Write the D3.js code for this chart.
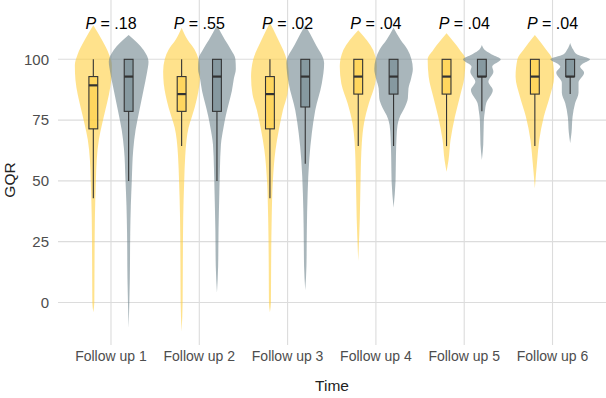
<!DOCTYPE html>
<html>
<head>
<meta charset="utf-8">
<script src="https://cdn.jsdelivr.net/npm/d3@7"></script>
<style>
  body { margin: 0; background: #fff; }
  text { font-family: "Liberation Sans", Arial, sans-serif; }
</style>
</head>
<body>
<script>
// categories
const times = ["Follow up 1", "Follow up 2", "Follow up 3", "Follow up 4", "Follow up 5", "Follow up 6"];
const groups = ["Group 1", "Group 2"];
const pValues = [".18", ".55", ".02", ".04", ".04", ".04"];
const yTicks = [0, 25, 50, 75, 100];

// box stats per time: [lower whisker, q1, median, q3, upper whisker]
const boxGroup1 = [
  [42.9, 71.4, 89.3, 92.9, 100],
  [64.3, 78.6, 85.7, 92.9, 100],
  [42.9, 71.4, 85.7, 92.9, 100],
  [64.3, 85.7, 92.9, 100, 100],
  [64.3, 85.7, 92.9, 100, 100],
  [64.3, 85.7, 92.9, 100, 100]
];
const boxGroup2 = [
  [50, 78.6, 92.9, 100, 100],
  [50, 78.6, 92.9, 100, 100],
  [57.1, 80.4, 92.9, 100, 100],
  [64.3, 85.7, 92.9, 100, 100],
  [78.6, 92.9, 92.9, 100, 100],
  [85.7, 92.9, 92.9, 100, 100]
];

// violin outlines per time: [GQR value, relative density width]
const violinGroup1 = [
  [[114,0],[108,0.43],[101.8,0.8],[97.6,0.93],[91.5,0.9],[85.3,0.78],[79,0.6],[73,0.43],[67,0.28],[58.5,0.17],[50.3,0.13],[35,0.08],[15,0.06],[0,0.05],[-4,0]],
  [[113,0],[108,0.3],[104,0.65],[100,0.85],[95,0.93],[90,0.9],[85,0.8],[80,0.65],[76,0.5],[72,0.35],[67,0.25],[60,0.18],[50,0.13],[35,0.08],[15,0.06],[0,0.05],[-12,0]],
  [[115,0],[108,0.42],[99.7,0.85],[92.8,0.95],[85.7,0.88],[79,0.65],[71,0.45],[62.7,0.28],[50.4,0.15],[35,0.09],[15,0.06],[0,0.05],[-4,0]],
  [[112,0],[103.8,0.75],[97,0.93],[90,0.85],[82,0.54],[73.7,0.29],[65.5,0.18],[51.7,0.12],[35,0.08],[17,0]],
  [[110.7,0],[103.8,0.67],[100,0.95],[92.8,0.9],[84.6,0.67],[76.4,0.42],[66.8,0.2],[58.6,0.1],[53.8,0]],
  [[110,0],[103.8,0.58],[100,0.88],[92.8,0.97],[84.6,0.75],[76.4,0.45],[66.8,0.22],[58.6,0.12],[47,0]]
];
const violinGroup2 = [
  [[110,0],[103.8,0.75],[99,1.0],[94.4,0.92],[87.4,0.75],[79,0.54],[71,0.35],[62.7,0.23],[50.4,0.16],[40,0.11],[28.5,0.08],[10,0.06],[-10.5,0]],
  [[114,0],[108,0.4],[104,0.7],[100,0.93],[96,0.95],[92,0.85],[87,0.75],[82,0.6],[77,0.45],[72,0.33],[65,0.2],[55,0.15],[45,0.12],[30,0.08],[15,0.06],[4,0]],
  [[114,0],[106.5,0.5],[98.4,0.95],[90,0.83],[79,0.5],[69.6,0.33],[58.6,0.2],[45,0.12],[30,0.08],[15,0.06],[5,0]],
  [[113,0],[108,0.35],[104,0.7],[100,0.9],[96,0.97],[92,0.88],[88,0.75],[84,0.72],[80,0.55],[77,0.35],[73,0.2],[68,0.15],[60,0.12],[50,0.1],[39,0]],
  [[105.9,0],[103.5,0.2],[102,0.5],[100,0.95],[97,0.52],[94.9,0.58],[90.8,0.33],[87.4,0.55],[82,0.22],[78.5,0.15],[75,0.1],[65,0.07],[58.6,0]],
  [[106.7,0],[104,0.15],[102,0.35],[100,1.0],[98,0.6],[97,0.5],[94.5,0.7],[90.4,0.42],[86.3,0.42],[82,0.25],[76.4,0.12],[70,0.07],[65.5,0]]
];

const width = 606;
const height = 398;
const panel = { left: 58, right: 606, top: 0, bottom: 345 };
const colors = d3.scaleOrdinal().domain(groups).range(["#FFCF40", "#6F858E"]);

const svg = d3.select("body")
  .append("svg")
  .attr("width", width)
  .attr("height", height);

const x = d3.scalePoint()
  .domain(times)
  .range([panel.left, 605.5])
  .padding(0.6);
const step = x.step();

const dodge = d3.scaleBand()
  .domain(groups)
  .range([-0.4 * step, 0.4 * step]);

const y = d3.scaleLinear()
  .domain([-17.5, 124.4])
  .range([panel.bottom, panel.top]);

const w = d3.scaleLinear()
  .domain([0, 1])
  .range([0, 0.225 * step]);

function centre(time, group) {
  return x(time) + dodge(group) + dodge.bandwidth() / 2;
}

// grid
svg.append("g")
  .selectAll("line")
  .data(yTicks)
  .enter()
  .append("line")
  .attr("x1", panel.left)
  .attr("x2", panel.right)
  .attr("y1", d => y(d))
  .attr("y2", d => y(d))
  .attr("stroke", "#dcdcdc")
  .attr("stroke-width", 1.1);

svg.append("g")
  .selectAll("line")
  .data(times)
  .enter()
  .append("line")
  .attr("x1", d => x(d))
  .attr("x2", d => x(d))
  .attr("y1", panel.top)
  .attr("y2", panel.bottom)
  .attr("stroke", "#dcdcdc")
  .attr("stroke-width", 1.1);

// violins
const violins = [];
times.forEach((t, i) => {
  violins.push({ time: t, group: groups[0], pts: violinGroup1[i] });
  violins.push({ time: t, group: groups[1], pts: violinGroup2[i] });
});

svg.append("g")
  .selectAll("path")
  .data(violins)
  .enter()
  .append("path")
  .attr("d", d => {
    const cx = centre(d.time, d.group);
    return d3.area()
      .curve(d3.curveMonotoneY)
      .y(p => y(p[0]))
      .x0(p => cx - w(p[1]))
      .x1(p => cx + w(p[1]))(d.pts);
  })
  .attr("fill", d => colors(d.group))
  .attr("fill-opacity", 0.6)
  .attr("stroke", "none");

// boxes
const boxes = [];
times.forEach((t, i) => {
  boxes.push({ time: t, group: groups[0], s: boxGroup1[i] });
  boxes.push({ time: t, group: groups[1], s: boxGroup2[i] });
});
const boxW = 0.1 * step;

const bg = svg.append("g")
  .selectAll("g")
  .data(boxes)
  .enter()
  .append("g");

bg.append("line")
  .attr("x1", d => centre(d.time, d.group))
  .attr("x2", d => centre(d.time, d.group))
  .attr("y1", d => y(d.s[0]))
  .attr("y2", d => y(d.s[1]))
  .attr("stroke", "#333")
  .attr("stroke-width", 1.1);

bg.append("line")
  .attr("x1", d => centre(d.time, d.group))
  .attr("x2", d => centre(d.time, d.group))
  .attr("y1", d => y(d.s[3]))
  .attr("y2", d => y(d.s[4]))
  .attr("stroke", "#333")
  .attr("stroke-width", 1.1);

bg.append("rect")
  .attr("x", d => centre(d.time, d.group) - boxW / 2)
  .attr("width", boxW)
  .attr("y", d => y(d.s[3]))
  .attr("height", d => y(d.s[1]) - y(d.s[3]))
  .attr("fill", d => colors(d.group))
  .attr("fill-opacity", 0.6)
  .attr("stroke", "#333")
  .attr("stroke-width", 1.1);

bg.append("line")
  .attr("x1", d => centre(d.time, d.group) - boxW / 2)
  .attr("x2", d => centre(d.time, d.group) + boxW / 2)
  .attr("y1", d => y(d.s[2]))
  .attr("y2", d => y(d.s[2]))
  .attr("stroke", "#333")
  .attr("stroke-width", 2.2);

// P values
const pt = svg.append("g")
  .selectAll("text")
  .data(times)
  .enter()
  .append("text")
  .attr("x", d => x(d))
  .attr("y", 28.5)
  .attr("text-anchor", "middle")
  .style("font-size", "16px")
  .attr("fill", "#000");
pt.append("tspan").style("font-style", "italic").text("P");
pt.append("tspan").text((d, i) => " = " + pValues[i]);

// y tick labels
svg.append("g")
  .selectAll("text")
  .data(yTicks)
  .enter()
  .append("text")
  .attr("x", 49)
  .attr("y", d => y(d) + 5.3)
  .attr("text-anchor", "end")
  .style("font-size", "15px")
  .attr("fill", "#4d4d4d")
  .text(d => d);

// x tick labels
svg.append("g")
  .selectAll("text")
  .data(times)
  .enter()
  .append("text")
  .attr("x", d => x(d))
  .attr("y", 361)
  .attr("text-anchor", "middle")
  .style("font-size", "14px")
  .attr("fill", "#4d4d4d")
  .text(d => d);

// axis titles
svg.append("text")
  .attr("x", (panel.left + panel.right) / 2)
  .attr("y", 391)
  .attr("text-anchor", "middle")
  .style("font-size", "15.5px")
  .attr("fill", "#222")
  .text("Time");

svg.append("text")
  .attr("transform", "translate(15,180) rotate(-90)")
  .attr("text-anchor", "middle")
  .style("font-size", "15.5px")
  .attr("fill", "#222")
  .text("GQR");
</script>
</body>
</html>
